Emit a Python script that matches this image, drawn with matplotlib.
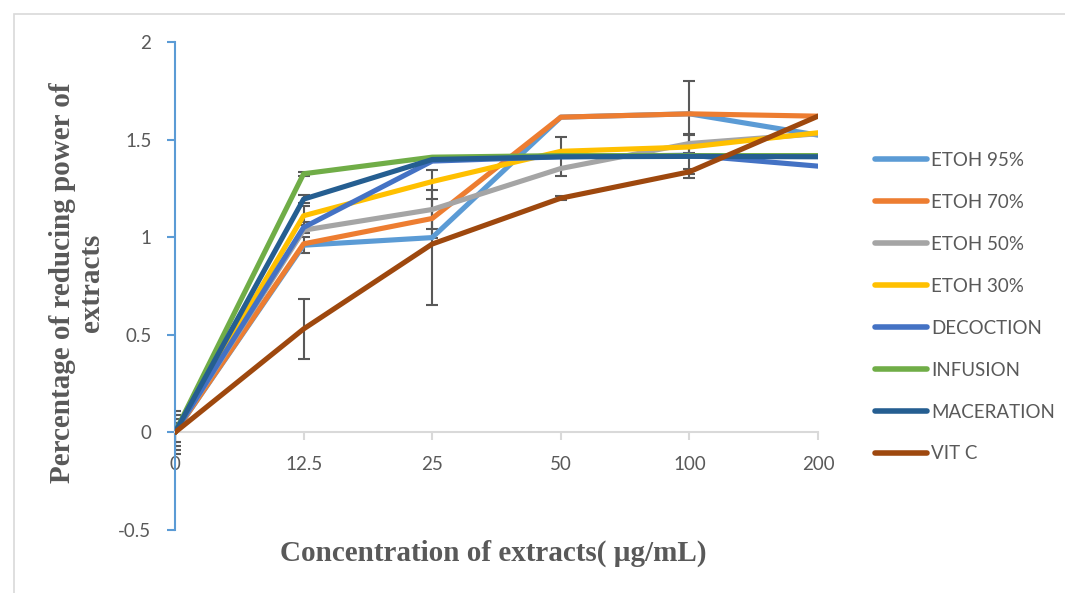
import matplotlib
matplotlib.use("Agg")
import matplotlib.pyplot as plt
from matplotlib.patches import Rectangle
import numpy as np

categories = ["0", "12.5", "25", "50", "100", "200"]
series_names = ["ETOH 95%", "ETOH 70%", "ETOH 50%", "ETOH 30%",
                "DECOCTION", "INFUSION", "MACERATION", "VIT C"]
etoh95 = [0, 0.959, 0.998, 1.615, 1.632, 1.523]
etoh70 = [0, 0.966, 1.096, 1.615, 1.632, 1.620]
etoh50 = [0, 1.036, 1.142, 1.352, 1.480, 1.530]
etoh30 = [0, 1.110, 1.285, 1.440, 1.462, 1.535]
decoction = [0, 1.050, 1.390, 1.412, 1.420, 1.364]
infusion = [0, 1.325, 1.410, 1.418, 1.418, 1.418]
maceration = [0, 1.195, 1.398, 1.412, 1.414, 1.412]
vitc = [0, 0.530, 0.965, 1.200, 1.335, 1.620]

err95 = [0.11, 0.04, 0.345, 0, 0, 0]
err70 = [0.09, 0, 0.10, 0, 0.17, 0]
err50 = [0.07, 0, 0.10, 0, 0.05, 0]
err30 = [0.05, 0.05, 0, 0, 0, 0]
errdec = [0, 0.03, 0, 0, 0, 0]
errinf = [0, 0.01, 0, 0, 0, 0]
errmac = [0, 0.02, 0, 0.10, 0.11, 0]
errvit = [0, 0.155, 0, 0.01, 0.012, 0]

colors = ["#5B9BD5", "#ED7D31", "#A5A5A5", "#FFC000",
          "#4472C4", "#70AD47", "#255E91", "#9E480E"]

data = [etoh95, etoh70, etoh50, etoh30, decoction, infusion, maceration, vitc]
errs = [err95, err70, err50, err30, errdec, errinf, errmac, errvit]

W, H = 1065, 593
fig = plt.figure(figsize=(W / 100, H / 100), dpi=100)
fig.patches.append(Rectangle((14 / W, -0.1), 1.2, (H - 14) / H + 0.1,
                             transform=fig.transFigure, fill=False,
                             edgecolor="#D9D9D9", linewidth=1.2))

ax = fig.add_axes([175 / W, (H - 530) / H, (818 - 175) / W, (530 - 42) / H])
x = np.arange(len(categories))

for name, vals, c in zip(series_names, data, colors):
    ax.plot(x, vals, color=c, linewidth=3.7, label=name, solid_capstyle="round",
            solid_joinstyle="round", zorder=3)
for vals, e in zip(data, errs):
    idx = [i for i, v in enumerate(e) if v > 0]
    ax.errorbar([x[i] for i in idx], [vals[i] for i in idx], yerr=[e[i] for i in idx],
                fmt="none", ecolor="#595959", elinewidth=1.5, capsize=4,
                capthick=1.5, zorder=2)

ax.set_xlim(0, 5)
ax.set_ylim(-0.5, 2)
ax.set_yticks([-0.5, 0, 0.5, 1, 1.5, 2])
ax.set_yticklabels(["-0.5", "0", "0.5", "1", "1.5", "2"])
ax.set_xticks(x)
ax.set_xticklabels(categories)

for s in ["top", "right"]:
    ax.spines[s].set_visible(False)
ax.spines["left"].set_color("#5B9BD5")
ax.spines["left"].set_linewidth(1.5)
ax.spines["bottom"].set_position(("data", 0))
ax.spines["bottom"].set_color("#D9D9D9")
ax.spines["bottom"].set_linewidth(1.5)

ax.tick_params(axis="y", direction="out", length=6, width=1.5, color="#5B9BD5",
               labelcolor="#595959", labelsize=13.5, pad=11)
ax.tick_params(axis="x", direction="out", length=6, width=1.5, color="#D9D9D9",
               labelcolor="#595959", labelsize=13.5, pad=11)
for lab in ax.get_xticklabels() + ax.get_yticklabels():
    lab.set_fontfamily("Lato")

ax.patch.set_alpha(0)

leg = fig.legend(loc="upper left", bbox_to_anchor=(858 / W, 1 - 135 / H),
                 frameon=False, prop={"family": "Lato", "size": 13.5},
                 handlelength=2.8, handletextpad=0.2, labelspacing=1.33)
for t in leg.get_texts():
    t.set_color("#595959")
for l in leg.get_lines():
    l.set_linewidth(4)
    l.set_solid_capstyle("round")

fig.text(493 / W, 1 - 553 / H, "Concentration of extracts( \u00b5g/mL)",
         family="Liberation Serif", weight="bold", size=21, color="#595959",
         ha="center", va="center")
fig.text(77 / W, 1 - 283 / H, "Percentage of reducing power of\nextracts",
         family="Liberation Serif", weight="bold", size=21, color="#595959",
         ha="center", va="center", rotation=90, linespacing=1.1)

fig.savefig("out.png", dpi=100)
